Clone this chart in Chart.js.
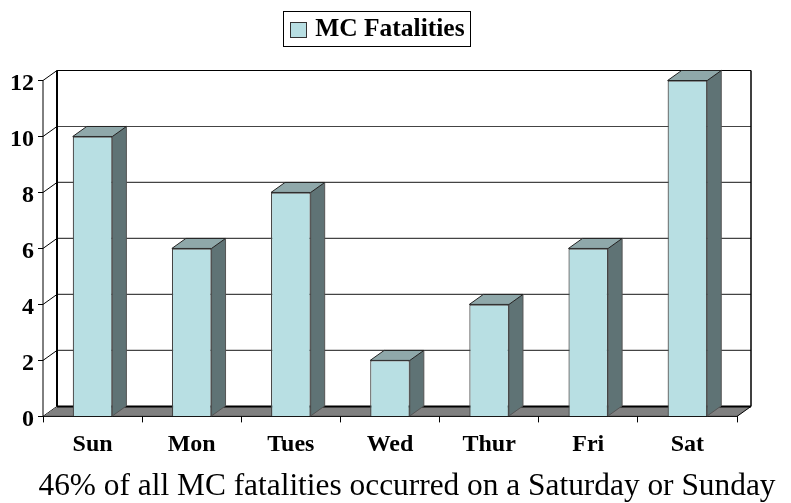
<!DOCTYPE html>
<html><head><meta charset="utf-8">
<style>html,body{margin:0;padding:0;background:#fff}#w{width:791px;height:503px}</style>
<script src="https://cdn.jsdelivr.net/npm/chart.js@4/dist/chart.umd.min.js"></script>
</head><body><div id="w"><canvas id="c" width="791" height="503"></canvas></div>
<script>
const categories = ["Sun","Mon","Tues","Wed","Thur","Fri","Sat"];
const fatalities = [10,6,8,2,4,6,12];
const seriesName = "MC Fatalities";
const caption = "46% of all MC fatalities occurred on a Saturday or Sunday";
const yTicks = [0,2,4,6,8,10,12];
const DX = 14, DY = 10;
const FRONT = "#b8dfe3", TOP = "#8fa8aa", SIDE = "#5f7375", FLOOR = "#808080";

function poly(ctx, pts, fill, stroke, lw){
  ctx.beginPath();
  pts.forEach((p,i)=> i?ctx.lineTo(p[0],p[1]):ctx.moveTo(p[0],p[1]));
  ctx.closePath();
  if(fill){ctx.fillStyle=fill;ctx.fill();}
  if(stroke){ctx.strokeStyle=stroke;ctx.lineWidth=lw||1;ctx.stroke();}
}
function line(ctx,x1,y1,x2,y2,c,lw){
  ctx.beginPath();ctx.moveTo(x1,y1);ctx.lineTo(x2,y2);ctx.strokeStyle=c;ctx.lineWidth=lw;ctx.stroke();
}
const box3d = {
  id:"box3d",
  afterLayout(chart){
    const l=chart.legend, t=chart.titleBlock;
    const dy=10-l.top, dx=7;
    l.top+=dy; l.bottom+=dy; l.left+=dx; l.right+=dx;
    t.left+=38.5; t.right+=38.5; t.top+=7; t.bottom+=7;
  },
  beforeDraw(chart){
    chart.scales.y.getLabelItems().forEach(i=>{
      if(!i.options._moved){i.options.translation[1]+=3.5;i.options._moved=true;}
    });
  },
  beforeDatasetsDraw(chart){
    const ctx=chart.ctx, a=chart.chartArea, y=chart.scales.y;
    ctx.save();
    yTicks.forEach(v=>{
      const py=y.getPixelForValue(v);
      if(v>0) line(ctx,a.left+DX,py-DY,a.right+DX,py-DY,v===12?"#000":"#444",1.2);
      line(ctx,a.left,py,a.left+DX,py-DY,"#000",1);
    });
    const b=a.bottom;
    poly(ctx,[[a.left,b],[a.left+DX,b-DY],[a.right+DX,b-DY],[a.right,b]],FLOOR);
    line(ctx,a.left+DX,b-DY,a.right+DX,b-DY,"#000",2);
    line(ctx,a.left+DX,a.top-DY,a.left+DX,b-DY,"#000",2);
    line(ctx,a.right+DX,a.top-DY,a.right+DX,b-DY,"#000",1.5);
    line(ctx,a.left,a.top,a.left,b,"#000",1);
    line(ctx,a.left,b,a.right,b,"#000",1);
    line(ctx,a.right,b,a.right+DX,b-DY,"#000",1);
    chart.getDatasetMeta(0).data.forEach(el=>{
      const p=el.getProps(["x","y","base","width"],true);
      const l=p.x-p.width/2, r=p.x+p.width/2;
      poly(ctx,[[r,p.y],[r+DX,p.y-DY],[r+DX,p.base-DY],[r,p.base]],SIDE,"#555",1);
      poly(ctx,[[l,p.y],[l+DX,p.y-DY],[r+DX,p.y-DY],[r,p.y]],TOP,"#222",1);
    });
    ctx.restore();
  },
  afterDraw(chart){
    const ctx=chart.ctx;
    ctx.save();
    ctx.strokeStyle="#000";ctx.lineWidth=1;
    ctx.strokeRect(283.5,11.5,187,35);
    ctx.fillStyle=FRONT;ctx.strokeStyle="#333";
    ctx.fillRect(290.5,22.5,16,15);ctx.strokeRect(290.5,22.5,16,15);
    ctx.restore();
  }
};
new Chart(document.getElementById("c"),{
  type:"bar",
  data:{labels:categories,datasets:[{label:seriesName,data:fatalities,backgroundColor:FRONT,borderColor:"#444",borderWidth:1.2,
    barPercentage:0.8,categoryPercentage:0.5}]},
  plugins:[box3d],
  options:{
    responsive:false,animation:false,
    layout:{padding:{left:0,right:54,top:38,bottom:0}},
    plugins:{
      tooltip:{enabled:false},
      legend:{display:true,position:"top",align:"center",
        labels:{color:"#000",font:{family:"Liberation Serif",size:25.5,weight:"bold"},boxWidth:16,boxHeight:15,padding:7,
          generateLabels(chart){
            return Chart.defaults.plugins.legend.labels.generateLabels(chart).map(i=>Object.assign(i,{fillStyle:"transparent",strokeStyle:"transparent"}));
          }}},
      title:{display:true,position:"bottom",text:caption,color:"#000",
        font:{family:"Liberation Serif",size:32,weight:"normal"},padding:{top:0,bottom:4.2}}
    },
    scales:{
      x:{grid:{display:true,drawOnChartArea:false,drawTicks:true,tickLength:6,color:"#000"},border:{display:false},
        ticks:{color:"#000",font:{family:"Liberation Serif",size:24,weight:"bold"},maxRotation:0,padding:8},
        afterFit(s){s.height=44;}},
      y:{min:0,max:12,grid:{display:true,drawOnChartArea:false,tickLength:5,color:"#000"},border:{display:false},
        ticks:{stepSize:2,color:"#000",font:{family:"Liberation Serif",size:24,weight:"bold"},padding:4},
        afterFit(s){s.width=43;}}
    }
  }
});
</script></body></html>
